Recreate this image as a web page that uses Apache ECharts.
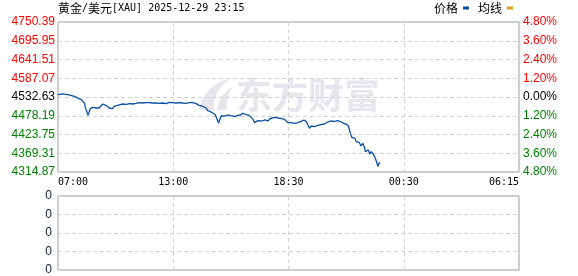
<!DOCTYPE html>
<html><head><meta charset="utf-8">
<script src="https://cdn.jsdelivr.net/npm/echarts@6/dist/echarts.min.js"></script>
<style>html,body{margin:0;padding:0;background:#fff}#c{width:578px;height:276px}</style>
</head><body><div id="c"></div>
<script>
const titleName = '黄金/美元';
const titleCode = '[XAU] 2025-12-29 23:15';
const legendNames = ['价格', '均线'];
const watermarkText = '东方财富';

const prevClose = 4532.63;
const priceMin = 4314.87, priceMax = 4750.39, priceStep = 54.44;
const pctMin = -4.8, pctMax = 4.8, pctStep = 1.2;

const sessionStart = '07:00';
const sessionMinutes = 1395;
const xTickLabels = ['07:00', '13:00', '18:30', '00:30', '06:15'];
const volumeTickLabels = ['0', '0', '0', '0', '0'];

const times = [
  '07:00','07:06','07:14','07:29','07:39','07:49','07:56','08:03','08:10','08:15',
  '08:20','08:23','08:27','08:31','08:35','08:38','08:41','08:45','08:50','08:55',
  '09:00','09:05','09:10','09:15','09:20','09:25','09:30','09:35','09:40','09:45',
  '09:50','09:55','10:00','10:05','10:16','10:26','10:36','10:46','10:56','11:06',
  '11:16','11:26','11:36','11:46','11:56','12:06','12:17','12:27','12:37','12:47',
  '12:57','13:07','13:17','13:27','13:37','13:47','13:57','14:02','14:07','14:18',
  '14:28','14:33','14:40','14:48','14:56','15:02','15:06','15:10','15:14',
  '15:19','15:26','15:34','15:42','15:49','15:56','16:04','16:12','16:19','16:25',
  '16:33','16:40','16:45','16:50','16:55','17:00','17:05','17:13','17:20','17:27',
  '17:35','17:43','17:50','17:57','18:05','18:15','18:25','18:30','18:36','18:46',
  '18:56','19:06','19:16','19:24','19:31','19:36','19:41','19:46','19:51','19:56',
  '20:01','20:06','20:16','20:26','20:36','20:47','20:57','21:07','21:17','21:25',
  '21:32','21:39','21:42','21:45','21:49','21:55','21:59','22:02','22:07','22:12',
  '22:17','22:22','22:27','22:30','22:35','22:39','22:44','22:48','22:53','22:56',
  '23:00','23:04','23:08','23:11','23:15'
];
const prices = [
  4539.4,4542.3,4541.4,4539.4,4537.5,4534.6,4531.7,4527.8,4524.9,4522.0,
  4515.2,4500.7,4491.0,4479.4,4491.0,4498.8,4493.0,4502.6,4498.8,4500.7,
  4504.6,4500.7,4505.5,4512.3,4516.2,4508.4,4505.5,4500.7,4502.6,4498.8,
  4505.5,4502.6,4508.4,4510.4,4512.3,4511.3,4513.3,4512.3,4514.2,4516.2,
  4515.2,4516.2,4516.2,4515.2,4515.2,4514.2,4515.2,4513.3,4517.2,4516.2,
  4515.2,4516.2,4515.2,4514.2,4516.2,4516.2,4514.2,4510.4,4508.4,4505.5,
  4500.7,4493.0,4491.0,4486.2,4481.3,4466.8,4457.1,4462.0,4477.5,
  4479.4,4477.5,4480.4,4478.5,4477.5,4475.5,4479.4,4480.4,4485.2,4483.3,
  4480.4,4478.5,4475.5,4467.8,4458.1,4460.0,4463.9,4463.0,4463.9,4465.9,
  4463.0,4470.7,4471.7,4473.6,4471.7,4470.7,4467.8,4462.0,4458.1,4458.1,
  4456.2,4458.1,4462.0,4465.9,4462.0,4456.2,4441.7,4448.4,4450.4,4446.5,
  4451.3,4450.4,4452.3,4454.2,4460.0,4463.0,4462.0,4463.9,4460.0,4456.2,
  4454.2,4448.4,4436.8,4427.1,4415.5,4419.4,4412.6,4402.9,4398.1,4400.0,
  4390.4,4398.1,4388.4,4373.9,4369.1,4378.8,4367.1,4373.9,4378.8,4364.2,
  4354.6,4344.9,4330.4,4340.0,4342.0
];
const avgPrices = [];
const volumes = [];

function toMin(t) { const p = t.split(':'); return +p[0] * 60 + +p[1]; }
const startMin = toMin(sessionStart);
function offset(t) { return (toMin(t) - startMin + 1440) % 1440; }
const xStep = sessionMinutes / (xTickLabels.length - 1);

function richTitle(s) {
  let out = '', cur = '', type = null;
  for (const ch of s) {
    const t = /[\u0000-\u00ff]/.test(ch) ? 'a' : 'c';
    if (t !== type && cur) { out += '{' + type + '|' + cur + '}'; cur = ''; }
    type = t; cur += ch;
  }
  if (cur) out += '{' + type + '|' + cur + '}';
  return out;
}

const MONO = 'DejaVu Sans Mono';
const SANS = 'Liberation Sans';
const CJK = 'Noto Sans CJK SC';
const WM = '#e6e6ec';
const gridLine = { show: true, lineStyle: { color: '#d2d2d2', type: [4, 3], width: 1 } };

const chart = echarts.init(document.getElementById('c'), null, { renderer: 'canvas' });
chart.setOption({
  animation: false,
  backgroundColor: '#fff',
  title: {
    text: richTitle(titleName + titleCode),
    left: 58, top: 2, padding: 0,
    textStyle: {
      fontWeight: 'normal',
      rich: {
        c: { fontSize: 12, fontFamily: CJK, fontWeight: 'normal', color: '#000', lineHeight: 13 },
        a: { fontSize: 10, fontFamily: MONO, fontWeight: 'normal', color: '#000', lineHeight: 13 }
      }
    }
  },
  legend: {
    data: legendNames, right: 65, top: 2, padding: 0,
    align: 'right', icon: 'rect', itemWidth: 6, itemHeight: 3, itemGap: 9,
    textStyle: { fontSize: 12, fontFamily: CJK, color: '#000' }
  },
  graphic: [{
    type: 'group', z: -10, silent: true,
    children: [
      { type: 'polygon', shape: { points: [[199,110],[201,101],[206,93],[213,86],[221,81],[229,79],[222,86],[217,93],[214,101],[214,110]] }, style: { fill: WM } },
      { type: 'polygon', shape: { points: [[217,110],[219,102],[223,95],[228,90],[233,86],[229,93],[227,100],[226,110]] }, style: { fill: WM } },
      { type: 'text', x: 236, y: 95, style: { text: watermarkText, fontSize: 36, fontWeight: 'bold', fontFamily: CJK, fill: WM, verticalAlign: 'middle' } }
    ]
  }],
  grid: [
    { left: 58, top: 22, width: 461, height: 150, show: true, borderColor: '#999', borderWidth: 1, backgroundColor: 'transparent' },
    { left: 58, top: 196, width: 461, height: 74, show: true, borderColor: '#999', borderWidth: 1, backgroundColor: 'transparent' }
  ],
  xAxis: [
    {
      type: 'value', gridIndex: 0, min: 0, max: sessionMinutes, interval: xStep,
      axisLine: { show: false }, axisTick: { show: false }, splitLine: gridLine,
      axisLabel: {
        margin: 5, fontSize: 10, fontFamily: MONO, color: '#000',
        alignMinLabel: 'left', alignMaxLabel: 'right',
        formatter: v => xTickLabels[Math.round(v / xStep)] || ''
      }
    },
    {
      type: 'value', gridIndex: 1, min: 0, max: sessionMinutes, interval: xStep,
      axisLine: { show: false }, axisTick: { show: false }, splitLine: gridLine,
      axisLabel: { show: false }
    }
  ],
  yAxis: [
    {
      type: 'value', gridIndex: 0, min: priceMin, max: priceMax, interval: priceStep,
      axisLine: { show: false }, axisTick: { show: false }, splitLine: gridLine,
      axisLabel: {
        margin: 3, fontSize: 12, fontFamily: SANS,
        formatter: v => v.toFixed(2),
        color: v => (Math.abs(v - prevClose) < 0.005 ? '#000' : (v > prevClose ? '#ff0000' : '#008000'))
      }
    },
    {
      type: 'value', gridIndex: 0, position: 'right', min: pctMin, max: pctMax, interval: pctStep,
      axisLine: { show: false }, axisTick: { show: false }, splitLine: { show: false },
      axisLabel: {
        margin: 4, fontSize: 12, fontFamily: SANS,
        formatter: v => Math.abs(v).toFixed(2) + '%',
        color: v => (Math.abs(v) < 1e-6 ? '#000' : (v > 0 ? '#ff0000' : '#008000'))
      }
    },
    {
      type: 'value', gridIndex: 1, min: 0, max: volumeTickLabels.length - 1, interval: 1,
      axisLine: { show: false }, axisTick: { show: false }, splitLine: gridLine,
      axisLabel: {
        margin: 6, fontSize: 12, fontFamily: SANS, color: '#0d1a33',
        formatter: (v) => volumeTickLabels[Math.round(v)]
      }
    }
  ],
  series: [
    {
      name: legendNames[0], type: 'line', xAxisIndex: 0, yAxisIndex: 0,
      showSymbol: false, symbol: 'none', color: '#0b4fa3',
      lineStyle: { color: '#0b4fa3', width: 1.3 },
      data: times.map((t, i) => [offset(t), prices[i]])
    },
    {
      name: legendNames[1], type: 'line', xAxisIndex: 0, yAxisIndex: 0,
      showSymbol: false, symbol: 'none', color: '#e0a020',
      lineStyle: { color: '#e0a020', width: 1 },
      data: avgPrices
    },
    {
      name: 'volume', type: 'bar', xAxisIndex: 1, yAxisIndex: 2, data: volumes
    }
  ]
});
</script>
</body></html>
